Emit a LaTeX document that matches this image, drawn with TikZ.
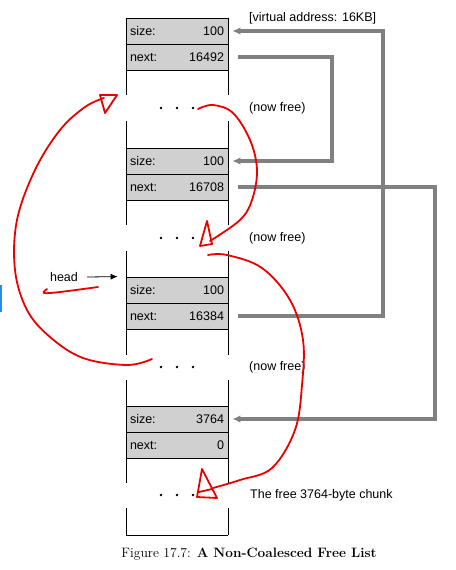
\documentclass[tikz,border=0pt]{standalone}
\usepackage{fontspec}
\setsansfont{Liberation Sans}
\usetikzlibrary{arrows.meta}
\definecolor{cellgray}{RGB}{208,208,208}
\definecolor{ptrgray}{RGB}{128,128,128}
\definecolor{inkred}{RGB}{235,0,0}
\definecolor{markblue}{RGB}{40,140,230}
\tikzset{
  cell/.style={draw=black, line width=0.8pt, fill=cellgray, minimum width=102pt, minimum height=26pt,
    text width=94pt, inner xsep=4pt, font=\sffamily\fontsize{12.5}{14}\selectfont, anchor=center},
  lbl/.style={font=\sffamily\fontsize{12.5}{14}\selectfont, anchor=west, inner sep=0pt},
  ptr/.style={draw=ptrgray, line width=3.6pt, -{Latex[length=8pt,width=7.5pt]}},
  colline/.style={line width=0.8pt},
  ink/.style={draw=inkred, line width=1.8pt, line cap=round, line join=round},
  dotmark/.style={fill=black},
}
\begin{document}
\begin{tikzpicture}[x=1pt,y=-1pt]
\useasboundingbox (0,0) rectangle (455,570);
% column side lines, broken at the dots
\foreach \a/\b in {18/95, 121/225, 251/355, 380/483, 508/535}{
  \draw[colline] (126,\a) -- (126,\b);
  \draw[colline] (228,\a) -- (228,\b);
}
\draw[colline] (126,535) -- (228,535);
% cells
\node[cell] (s1) at (177,31) {size:\hfill 100};
\node[cell] (n1) at (177,57) {next:\hfill 16492};
\node[cell] (s2) at (177,161) {size:\hfill 100};
\node[cell] (n2) at (177,187) {next:\hfill 16708};
\node[cell] (s3) at (177,290) {size:\hfill 100};
\node[cell] (n3) at (177,316) {next:\hfill 16384};
\node[cell] (s4) at (177,419) {size:\hfill 3764};
\node[cell] (n4) at (177,445) {next:\hfill 0};
% dots
\foreach \y in {108,238,367,495}{
  \foreach \x in {161,177,193}{
    \fill[dotmark] (\x,\y) circle (1.4);
  }
}
% labels
\node[lbl] (va) at (249,18) {[virtual address: 16KB]};
\node[lbl] (f1) at (249,108) {(now free)};
\node[lbl] (f2) at (249,238) {(now free)};
\node[lbl] (f3) at (249,367) {(now free)};
\node[lbl] (f4) at (250,495) {The free 3764-byte chunk};
\node[font=\sffamily\fontsize{12.5}{14}\selectfont, inner sep=0pt] (head) at (64,277) {head};
\draw[line width=0.8pt, -{Latex[length=7pt,width=6pt]}] ([xshift=9pt]head.east) -- ([xshift=-8pt]s3.north west);
% gray pointers
\coordinate (c1) at (383,0);
\coordinate (c2) at (332,0);
\coordinate (c3) at (435,0);
\draw[ptr] ([xshift=10pt]n3.east) -- (n3.east -| c1) -- (s1.east -| c1) -- ([xshift=4pt]s1.east);
\draw[ptr] ([xshift=10pt]n1.east) -- (n1.east -| c2) -- (s2.east -| c2) -- ([xshift=4pt]s2.east);
\draw[ptr] ([xshift=10pt]n2.east) -- (n2.east -| c3) -- (s4.east -| c3) -- ([xshift=4pt]s4.east);
% caption
\node[font=\fontsize{13.6}{16}\selectfont, inner sep=0pt] (cap) at (249,554) {Figure 17.7: \textbf{A Non-Coalesced Free List}};
% blue mark
\fill[markblue] (0,285) rectangle (1.5,312);
% red hand-drawn arrows
\draw[ink] plot[smooth, tension=0.6] coordinates {(152,359) (127,365) (83,358) (50,337) (27,310) (15,270) (17,220) (35,170) (60,130) (85,107) (104,98)};
\draw[ink] (100,95) -- (117,95) -- (105,113) -- cycle;
\draw[ink] plot[smooth, tension=0.6] coordinates {(198,109) (213,105) (233,113) (250,140) (257,170) (252,200) (240,220) (210,241)};
\draw[ink] (207,221) -- (200,246) -- (212,244) -- cycle;
\draw[ink] plot[smooth, tension=0.6] coordinates {(208,255) (227,255) (262,268) (290,300) (303,340) (302,385) (295,430) (272,468) (240,480) (213,488)};
\draw[ink] (202,469) -- (197,497) -- (217,498) -- cycle;
\draw[ink] (199,492) -- (212,489);
\draw[ink] plot[smooth, tension=0.6] coordinates {(47,289) (44,293) (60,292) (98,287)};
\end{tikzpicture}
\end{document}
